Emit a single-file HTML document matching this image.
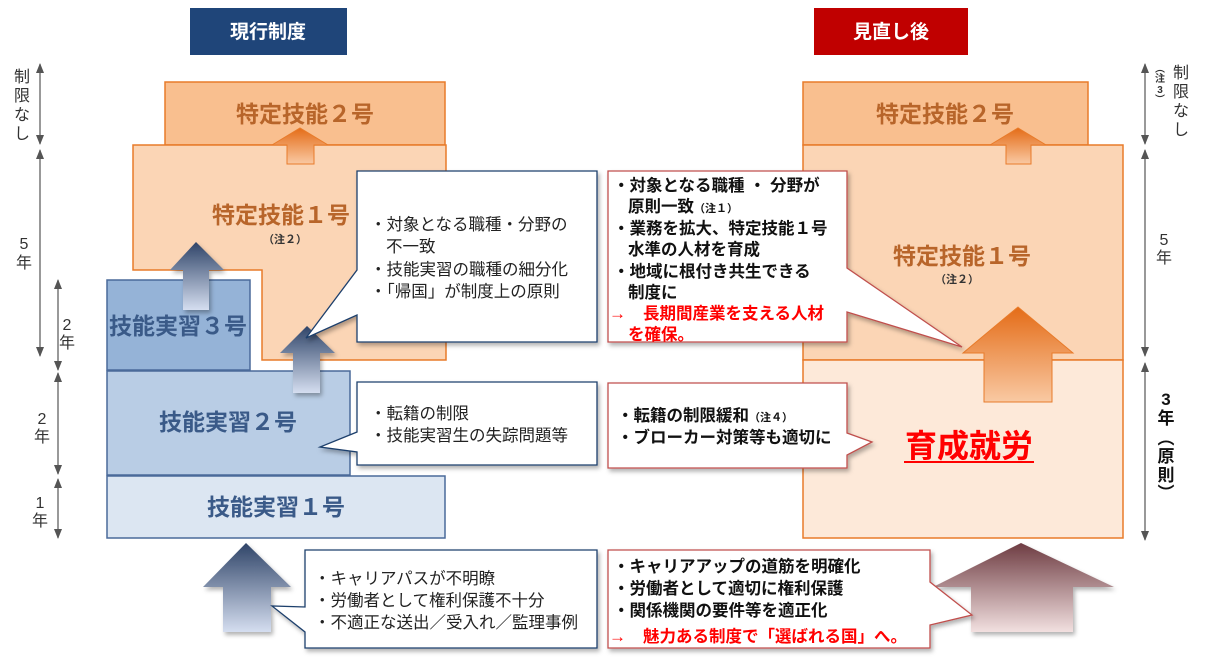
<!DOCTYPE html>
<html><head><meta charset="utf-8"><style>
html,body{margin:0;padding:0;background:#fff;}
svg{display:block;font-family:"Liberation Sans","Noto Sans CJK JP",sans-serif;}
.t{font-size:16.5px;fill:#222;}
.b{font-size:16.5px;font-weight:bold;fill:#111;}
.r{font-size:16.5px;font-weight:bold;fill:#ff0000;}
.lo{font-size:23px;font-weight:bold;fill:#b8652a;}
.lb{font-size:23px;font-weight:bold;fill:#3a5a88;}
.ax{font-size:16px;fill:#333;}
</style></head><body>
<svg width="1211" height="660" viewBox="0 0 1211 660" xmlns="http://www.w3.org/2000/svg">
<defs>
<linearGradient id="gb" x1="0" y1="0" x2="0" y2="1"><stop offset="0" stop-color="#2f4468"/><stop offset="1" stop-color="#d5def0"/></linearGradient>
<linearGradient id="go" x1="0" y1="0" x2="0" y2="1"><stop offset="0" stop-color="#e46c17"/><stop offset="1" stop-color="#f9c9a3"/></linearGradient>
<linearGradient id="gm" x1="0" y1="0" x2="0" y2="1"><stop offset="0" stop-color="#6e3c42"/><stop offset="1" stop-color="#f2e0e0"/></linearGradient>
<filter id="sh" x="-5%" y="-5%" width="115%" height="120%"><feDropShadow dx="2" dy="3" stdDeviation="2" flood-color="#000" flood-opacity="0.3"/></filter>
<marker id="ah" markerWidth="10" markerHeight="10" refX="9" refY="4" orient="auto-start-reverse" markerUnits="userSpaceOnUse"><path d="M0,0 L10,4 L0,8 Z" fill="#555"/></marker>
</defs>

<rect x="190" y="8" width="157" height="47" fill="#1f4579"/>
<text x="268" y="38" text-anchor="middle" font-size="19" font-weight="bold" fill="#fff">現行制度</text>
<rect x="814" y="8" width="154" height="47" fill="#c00000"/>
<text x="891" y="38" text-anchor="middle" font-size="19" font-weight="bold" fill="#fff">見直し後</text>

<rect x="165" y="82" width="280" height="63" fill="#f9bf8f" stroke="#e87b2a" stroke-width="1.5"/>
<text x="305" y="122" text-anchor="middle" class="lo">特定技能２号</text>
<path d="M133,145 L446,145 L446,360 L262,360 L262,270 L133,270 Z" fill="#fbd5b5" stroke="#e87b2a" stroke-width="1.5"/>
<text x="281" y="223" text-anchor="middle" class="lo">特定技能１号</text>
<text x="285" y="243" text-anchor="middle" font-size="11" font-weight="bold" fill="#333">（注２）</text>
<path d="M272,145 L300,128 L328,145 L314,145 L314,164 L287,164 L287,145 Z" fill="url(#go)" stroke="#e87b2a" stroke-width="1"/>

<rect x="107" y="280" width="143" height="90" fill="#95b3d7" stroke="#4a6a9a" stroke-width="1.5"/>
<text x="178" y="334" text-anchor="middle" class="lb">技能実習３号</text>
<rect x="107" y="371" width="243" height="104" fill="#b9cde5" stroke="#4a6a9a" stroke-width="1.5"/>
<text x="228" y="430" text-anchor="middle" class="lb">技能実習２号</text>
<rect x="107" y="476" width="338" height="62" fill="#dce6f2" stroke="#4a6a9a" stroke-width="1.5"/>
<text x="276" y="515" text-anchor="middle" class="lb">技能実習１号</text>

<path d="M170,270 L196,242 L224,270 L209,270 L209,310 L183,310 L183,270 Z" fill="url(#gb)" filter="url(#sh)"/>
<path d="M280,353 L307,326 L335,353 L320,353 L320,393 L293,393 L293,353 Z" fill="url(#gb)" filter="url(#sh)"/>
<path d="M203,587 L246,543 L291,587 L271,587 L271,632 L223,632 L223,587 Z" fill="url(#gb)" filter="url(#sh)"/>

<path d="M357,171 L597,171 L597,342 L357,342 L357,315 L306,338 L357,270 Z" fill="#fff" stroke="#1f3f6c" stroke-width="1.3" filter="url(#sh)"/>
<text class="t"><tspan x="370" y="230">・対象となる職種・分野の</tspan><tspan x="386" y="252">不一致</tspan><tspan x="370" y="275">・技能実習の職種の細分化</tspan><tspan x="370" y="297">・「帰国」が制度上の原則</tspan></text>

<path d="M357,382 L597,382 L597,465 L357,465 L357,452 L320,447 L357,432 Z" fill="#fff" stroke="#1f3f6c" stroke-width="1.3" filter="url(#sh)"/>
<text class="t"><tspan x="370" y="419">・転籍の制限</tspan><tspan x="370" y="441">・技能実習生の失踪問題等</tspan></text>

<path d="M305,550 L597,550 L597,648 L305,648 L305,632 L272,606 L305,607 Z" fill="#fff" stroke="#1f3f6c" stroke-width="1.3" filter="url(#sh)"/>
<text class="t"><tspan x="314" y="584">・キャリアパスが不明瞭</tspan><tspan x="314" y="606">・労働者として権利保護不十分</tspan><tspan x="314" y="628">・不適正な送出／受入れ／監理事例</tspan></text>

<g stroke="#555" stroke-width="1.2">
<line x1="40" y1="64" x2="40" y2="144" marker-start="url(#ah)" marker-end="url(#ah)"/>
<line x1="40" y1="150" x2="40" y2="356" marker-start="url(#ah)" marker-end="url(#ah)"/>
<line x1="58" y1="280" x2="58" y2="370" marker-start="url(#ah)" marker-end="url(#ah)"/>
<line x1="58" y1="373" x2="58" y2="474" marker-start="url(#ah)" marker-end="url(#ah)"/>
<line x1="58" y1="479" x2="58" y2="538" marker-start="url(#ah)" marker-end="url(#ah)"/>
</g>
<text class="ax" text-anchor="middle"><tspan x="22" y="82">制</tspan><tspan x="22" y="101">限</tspan><tspan x="22" y="120">な</tspan><tspan x="22" y="139">し</tspan></text>
<text class="ax" text-anchor="middle"><tspan x="24" y="249">5</tspan><tspan x="24" y="268">年</tspan></text>
<text class="ax" text-anchor="middle"><tspan x="67" y="330">2</tspan><tspan x="67" y="348">年</tspan></text>
<text class="ax" text-anchor="middle"><tspan x="42" y="424">2</tspan><tspan x="42" y="442">年</tspan></text>
<text class="ax" text-anchor="middle"><tspan x="40" y="508">1</tspan><tspan x="40" y="526">年</tspan></text>

<rect x="803" y="82" width="285" height="63" fill="#f9bf8f" stroke="#e87b2a" stroke-width="1.5"/>
<text x="945" y="122" text-anchor="middle" class="lo">特定技能２号</text>
<rect x="803" y="145" width="320" height="215" fill="#fbd5b5" stroke="#e87b2a" stroke-width="1.5"/>
<text x="962" y="264" text-anchor="middle" class="lo">特定技能１号</text>
<text x="957" y="283" text-anchor="middle" font-size="11" font-weight="bold" fill="#333">（注２）</text>
<rect x="803" y="360" width="320" height="178" fill="#fde9d9" stroke="#e87b2a" stroke-width="1.5"/>
<text x="969" y="457" text-anchor="middle" font-size="32" font-weight="bold" fill="#ff0000">育成就労</text>
<line x1="904" y1="462" x2="1034" y2="462" stroke="#ff0000" stroke-width="2"/>
<path d="M990,145 L1018,128 L1046,145 L1031,145 L1031,164 L1006,164 L1006,145 Z" fill="url(#go)" stroke="#e87b2a" stroke-width="1"/>
<path d="M963,353 L1018,307 L1073,353 L1052,353 L1052,402 L984,402 L984,353 Z" fill="url(#go)" stroke="#e87b2a" stroke-width="1"/>
<path d="M933,587 L1021,543 L1114,587 L1073,587 L1073,632 L971,632 L971,587 Z" fill="url(#gm)" filter="url(#sh)"/>

<path d="M608,171 L847,171 L847,268 L962,347 L847,312 L847,342 L608,342 Z" fill="#fff" stroke="#c0504d" stroke-width="1.3" filter="url(#sh)"/>
<text class="b"><tspan x="613" y="191">・対象となる職種 ・ 分野が</tspan><tspan x="628" y="212">原則一致</tspan><tspan font-size="11">（注１）</tspan><tspan x="613" y="234">・業務を拡大、特定技能１号</tspan><tspan x="628" y="255">水準の人材を育成</tspan><tspan x="613" y="277">・地域に根付き共生できる</tspan><tspan x="628" y="298">制度に</tspan></text>
<text class="r"><tspan x="609" y="319" font-size="17" font-weight="normal">→</tspan><tspan x="643" y="319">長期間産業を支える人材</tspan><tspan x="628" y="340">を確保。</tspan></text>

<path d="M608,383 L847,383 L847,433 L872,442 L847,455 L847,468 L608,468 Z" fill="#fff" stroke="#c0504d" stroke-width="1.3" filter="url(#sh)"/>
<text class="b"><tspan x="617" y="421">・転籍の制限緩和</tspan><tspan font-size="11">（注４）</tspan><tspan x="617" y="443">・ブローカー対策等も適切に</tspan></text>

<path d="M608,550 L930,550 L930,582 L972,615 L930,625 L930,648 L608,648 Z" fill="#fff" stroke="#c0504d" stroke-width="1.3" filter="url(#sh)"/>
<text class="b"><tspan x="613" y="572">・キャリアアップの道筋を明確化</tspan><tspan x="613" y="594">・労働者として適切に権利保護</tspan><tspan x="613" y="616">・関係機関の要件等を適正化</tspan></text>
<text class="r"><tspan x="609" y="642" font-size="17" font-weight="normal">→</tspan><tspan x="643" y="642">魅力ある制度で「選ばれる国」へ。</tspan></text>

<g stroke="#555" stroke-width="1.2">
<line x1="1145" y1="64" x2="1145" y2="144" marker-start="url(#ah)" marker-end="url(#ah)"/>
<line x1="1145" y1="150" x2="1145" y2="356" marker-start="url(#ah)" marker-end="url(#ah)"/>
<line x1="1145" y1="363" x2="1145" y2="540" marker-start="url(#ah)" marker-end="url(#ah)"/>
</g>
<text class="ax" text-anchor="middle"><tspan x="1181" y="78">制</tspan><tspan x="1181" y="97">限</tspan><tspan x="1181" y="116">な</tspan><tspan x="1181" y="135">し</tspan></text>
<text font-size="10" font-weight="bold" fill="#333" text-anchor="middle"><tspan x="1160" y="72">︵</tspan><tspan x="1160" y="82">注</tspan><tspan x="1160" y="93">3</tspan><tspan x="1160" y="103">︶</tspan></text>
<text class="ax" text-anchor="middle"><tspan x="1164" y="245">5</tspan><tspan x="1164" y="263">年</tspan></text>
<text font-size="17" font-weight="bold" fill="#111" text-anchor="middle"><tspan x="1166" y="405">3</tspan><tspan x="1166" y="424">年</tspan><tspan x="1166" y="444">︵</tspan><tspan x="1166" y="462">原</tspan><tspan x="1166" y="481">則</tspan><tspan x="1166" y="499">︶</tspan></text>
</svg>
</body></html>
